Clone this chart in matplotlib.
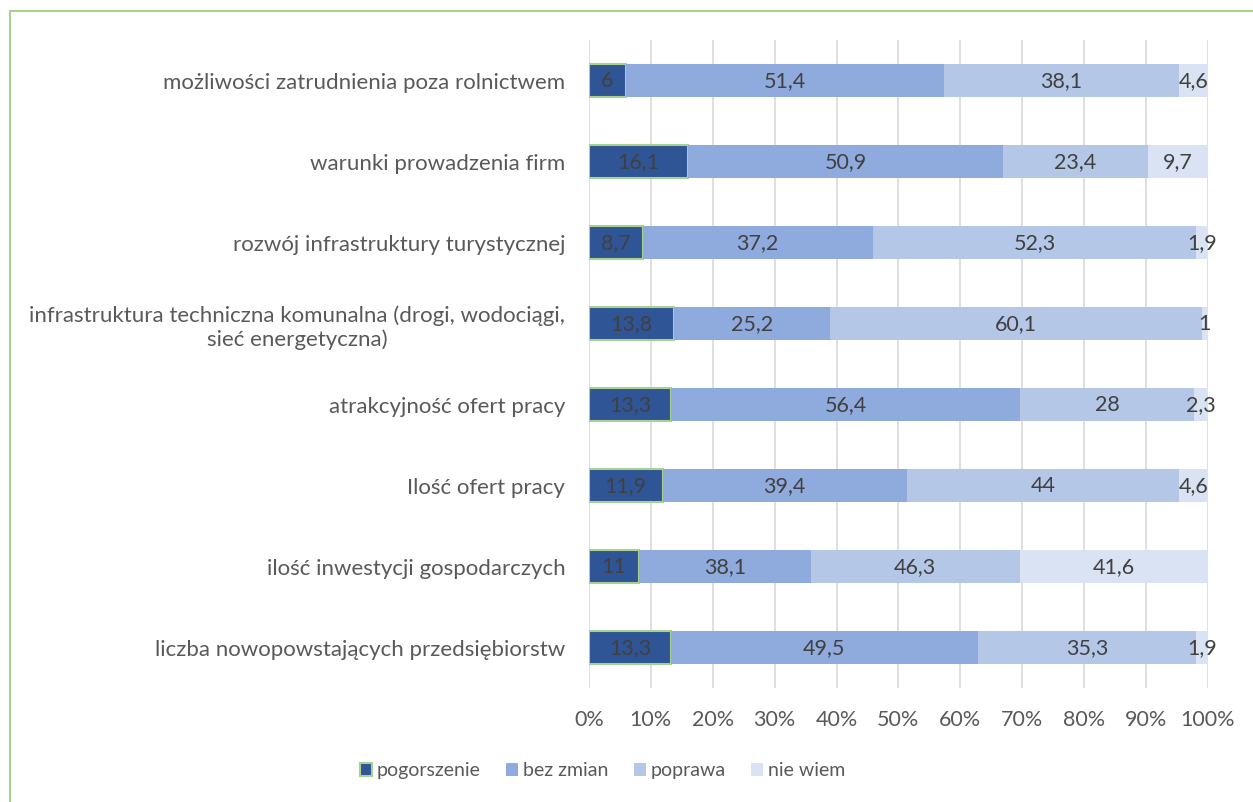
"""100% stacked bar chart: ocena zmian"""
import matplotlib.pyplot as plt
import numpy as np
from matplotlib.patches import Rectangle

plt.rcParams["font.family"] = ["Lato", "DejaVu Sans"]

# categories, top to bottom
categories = [
    "możliwości zatrudnienia poza rolnictwem",
    "warunki prowadzenia firm",
    "rozwój infrastruktury turystycznej",
    "infrastruktura techniczna komunalna (drogi, wodociągi,\nsieć energetyczna)",
    "atrakcyjność ofert pracy",
    "Ilość ofert pracy",
    "ilość inwestycji gospodarczych",
    "liczba nowopowstających przedsiębiorstw",
]
series_names = ["pogorszenie", "bez zmian", "poprawa", "nie wiem"]
pogorszenie = [6, 16.1, 8.7, 13.8, 13.3, 11.9, 11, 13.3]
bez_zmian = [51.4, 50.9, 37.2, 25.2, 56.4, 39.4, 38.1, 49.5]
poprawa = [38.1, 23.4, 52.3, 60.1, 28, 44, 46.3, 35.3]
nie_wiem = [4.6, 9.7, 1.9, 1, 2.3, 4.6, 41.6, 1.9]
tick_labels = ["0%", "10%", "20%", "30%", "40%", "50%", "60%", "70%", "80%", "90%", "100%"]

colors = ["#2F5597", "#8FAADC", "#B4C7E7", "#DAE3F3"]
text_col = "#595959"
fs = 15.5

values = np.array([pogorszenie, bez_zmian, poprawa, nie_wiem])
totals = values.sum(axis=0)
shares = values / totals

fig = plt.figure(figsize=(12.53, 8.02), dpi=100)
ax = fig.add_axes([0.470, 0.142, 0.494, 0.808])

y = np.arange(len(categories))
left = np.zeros(len(categories))
for k, name in enumerate(series_names):
    bars = ax.barh(
        y, shares[k], left=left, height=0.41, color=colors[k], label=name,
        edgecolor="#A9D18E" if k == 0 else "none", linewidth=1.5 if k == 0 else 0, zorder=3,
    )
    labels = [f"{v:g}".replace(".", ",") for v in values[k]]
    ax.bar_label(bars, labels=labels, label_type="center", color="#404040", fontsize=fs)
    left += shares[k]

ax.set_xlim(0, 1)
ax.set_ylim(len(categories) - 0.5, -0.5)
ax.set_xticks(np.linspace(0, 1, 11))
ax.set_xticklabels(tick_labels)
ax.set_yticks(y)
ax.set_yticklabels(categories, multialignment="center", fontsize=16)
ax.tick_params(axis="both", length=0, labelsize=fs, labelcolor=text_col)
ax.tick_params(axis="y", labelsize=16)
ax.tick_params(axis="x", pad=16)
ax.tick_params(axis="y", pad=17)
ax.grid(axis="x", color="#D9D9D9", linewidth=1.2, zorder=0)
for s in ax.spines.values():
    s.set_visible(False)

leg = fig.legend(
    loc="center", bbox_to_anchor=(0.481, 0.039), ncol=4, frameon=False, fontsize=14,
    handlelength=0.62, handleheight=0.62, handletextpad=0.26, columnspacing=1.3,
    labelcolor=text_col,
)

# outer border of the chart area
fig.patches.append(Rectangle((10 / 1253, -0.05), 1.1, 1 - 11 / 802 + 0.05, transform=fig.transFigure,
                             fill=False, edgecolor="#A9D18E", linewidth=1.5))

plt.savefig("out.png", dpi=100)
